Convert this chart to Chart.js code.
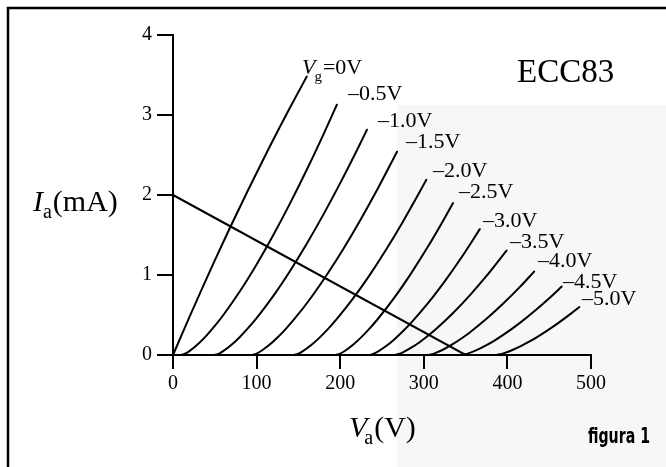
<!DOCTYPE html>
<html>
<head>
<meta charset="utf-8">
<script src="https://cdn.jsdelivr.net/npm/chart.js@4.4.1/dist/chart.umd.min.js"></script>
<style>
html,body{margin:0;padding:0;background:#fff;overflow:hidden}
#wrap{position:relative;width:666px;height:467px}
canvas{display:block}
</style>
</head>
<body>
<div id="wrap"><canvas id="c" width="666" height="467"></canvas></div>
<script>
// ---- axis ticks ----
const xTicks = [0, 100, 200, 300, 400, 500];   // Va (V)
const yTicks = [0, 1, 2, 3, 4];                // Ia (mA)

// ---- grid-voltage labels ----
const gridLabels = ['0V', '–0.5V', '–1.0V', '–1.5V', '–2.0V', '–2.5V', '–3.0V', '–3.5V', '–4.0V', '–4.5V', '–5.0V'];

// ---- anode characteristics (Va in V, Ia in mA) ----
const va_g00 = [0, 10, 20, 35, 50, 68, 90, 115, 140, 160];
const ia_g00 = [0, 0.243, 0.483, 0.836, 1.182, 1.587, 2.066, 2.590, 3.093, 3.480];

const va_g05 = [10, 15, 20, 30, 40, 50, 60, 80, 100, 120, 140, 160, 180, 196];
const ia_g05 = [0, 0.020, 0.052, 0.138, 0.243, 0.364, 0.497, 0.796, 1.132, 1.50, 1.895, 2.315, 2.758, 3.128];

const va_g10 = [50, 55, 60, 70, 80, 90, 100, 120, 140, 160, 180, 200, 220, 232];
const ia_g10 = [0, 0.018, 0.048, 0.128, 0.226, 0.338, 0.461, 0.739, 1.051, 1.392, 1.758, 2.148, 2.559, 2.816];

const va_g15 = [95, 100, 105, 115, 125, 135, 145, 165, 185, 205, 225, 245, 268];
const ia_g15 = [0, 0.018, 0.047, 0.124, 0.219, 0.327, 0.447, 0.716, 1.018, 1.348, 1.704, 2.081, 2.541];

const va_g20 = [145, 150, 155, 165, 175, 185, 195, 215, 235, 255, 275, 295, 303];
const ia_g20 = [0, 0.017, 0.046, 0.121, 0.214, 0.320, 0.438, 0.701, 0.996, 1.319, 1.667, 2.037, 2.19];

const va_g25 = [195, 200, 205, 215, 225, 235, 245, 265, 285, 305, 325, 335];
const ia_g25 = [0, 0.018, 0.047, 0.125, 0.220, 0.329, 0.450, 0.720, 1.024, 1.355, 1.713, 1.90];

const va_g30 = [235, 240, 245, 255, 265, 275, 285, 305, 325, 345, 367];
const ia_g30 = [0, 0.016, 0.043, 0.112, 0.198, 0.296, 0.404, 0.647, 0.920, 1.218, 1.573];

const va_g35 = [265, 270, 275, 285, 295, 305, 315, 335, 355, 375, 399];
const ia_g35 = [0, 0.013, 0.034, 0.091, 0.160, 0.240, 0.328, 0.525, 0.746, 0.988, 1.306];

const va_g40 = [305, 310, 315, 325, 335, 345, 355, 375, 395, 415, 432];
const ia_g40 = [0, 0.011, 0.030, 0.078, 0.138, 0.206, 0.282, 0.452, 0.643, 0.851, 1.043];

const va_g45 = [345, 350, 355, 365, 375, 385, 395, 415, 435, 455, 465];
const ia_g45 = [0, 0.010, 0.026, 0.070, 0.123, 0.184, 0.251, 0.402, 0.572, 0.757, 0.855];

const va_g50 = [386, 391, 396, 406, 416, 426, 436, 456, 476, 486];
const ia_g50 = [0, 0.009, 0.024, 0.063, 0.111, 0.166, 0.227, 0.364, 0.517, 0.599];

// ---- load line ----
const loadVa = [0, 350];
const loadIa = [2, 0];

const curveVa = [va_g00, va_g05, va_g10, va_g15, va_g20, va_g25, va_g30, va_g35, va_g40, va_g45, va_g50];
const curveIa = [ia_g00, ia_g05, ia_g10, ia_g15, ia_g20, ia_g25, ia_g30, ia_g35, ia_g40, ia_g45, ia_g50];

function pts(xs, ys) { return xs.map((x, i) => ({x: x, y: ys[i]})); }

const datasets = curveVa.map((xs, k) => ({
  label: 'Vg=' + gridLabels[k],
  data: pts(xs, curveIa[k]),
  showLine: true,
  borderColor: '#000',
  borderWidth: 2,
  pointRadius: 0,
  cubicInterpolationMode: 'monotone',
  fill: false
}));
datasets.push({
  label: 'load line',
  data: pts(loadVa, loadIa),
  showLine: true,
  borderColor: '#000',
  borderWidth: 2,
  pointRadius: 0,
  fill: false
});

// label placement (pixel anchors: left x, baseline y)
const labelAnchors = [
  [302, 74], [348, 100], [378, 127], [406, 148], [433, 177], [459, 198],
  [483, 227], [510, 248], [538, 267], [563, 288], [582, 305]
];

const SERIF = '"Liberation Serif", "Times New Roman", serif';

const decor = {
  id: 'decor',
  beforeDraw(chart) {
    const ctx = chart.ctx;
    ctx.save();
    ctx.fillStyle = '#fff';
    ctx.fillRect(0, 0, chart.width, chart.height);
    // faint grey tone of the scanned page on the right
    ctx.fillStyle = '#f7f7f7';
    ctx.fillRect(397, 105, chart.width - 397, chart.height - 105);
    ctx.restore();
  },
  afterDraw(chart) {
    const ctx = chart.ctx;
    ctx.save();
    // frame (top and left edges of the boxed figure)
    ctx.strokeStyle = '#000';
    ctx.lineWidth = 2.5;
    ctx.beginPath();
    ctx.moveTo(8, chart.height);
    ctx.lineTo(8, 8);
    ctx.lineTo(chart.width, 8);
    ctx.stroke();

    ctx.fillStyle = '#000';
    ctx.textBaseline = 'alphabetic';
    ctx.textAlign = 'left';

    // curve labels
    labelAnchors.forEach((p, k) => {
      let x = p[0], y = p[1];
      if (k === 0) {
        ctx.font = 'italic 22px ' + SERIF;
        ctx.fillText('V', x, y);
        x += ctx.measureText('V').width;
        ctx.font = '15px ' + SERIF;
        ctx.fillText('g', x - 1, y + 7);
        x += ctx.measureText('g').width;
        ctx.font = '22px ' + SERIF;
        ctx.fillText('=' + gridLabels[0], x, y);
      } else {
        ctx.font = '22px ' + SERIF;
        ctx.fillText(gridLabels[k], x, y);
      }
    });

    // tube type
    ctx.font = '33px ' + SERIF;
    ctx.fillText('ECC83', 517, 82);

    // y title: Ia(mA)
    let x = 33, y = 211;
    ctx.font = 'italic 30px ' + SERIF;
    ctx.fillText('I', x, y);
    x += ctx.measureText('I').width;
    ctx.font = '20px ' + SERIF;
    ctx.fillText('a', x, y + 7);
    x += ctx.measureText('a').width + 1;
    ctx.font = '30px ' + SERIF;
    ctx.fillText('(mA)', x, y);

    // x title: Va(V)
    x = 349; y = 437;
    ctx.font = 'italic 30px ' + SERIF;
    ctx.fillText('V', x, y);
    x += ctx.measureText('V').width - 3;
    ctx.font = '20px ' + SERIF;
    ctx.fillText('a', x, y + 7);
    x += ctx.measureText('a').width + 1;
    ctx.font = '30px ' + SERIF;
    ctx.fillText('(V)', x, y);

    // figure caption (condensed)
    ctx.font = 'bold 21px "DejaVu Sans", sans-serif';
    const cw = ctx.measureText('figura 1').width;
    ctx.save();
    ctx.translate(588, 443);
    ctx.scale(62 / cw, 1);
    ctx.fillText('figura 1', 0, 0);
    ctx.restore();
    ctx.restore();
  }
};

new Chart(document.getElementById('c'), {
  type: 'scatter',
  data: {datasets: datasets},
  options: {
    responsive: false,
    animation: false,
    devicePixelRatio: 1,
    layout: {padding: {left: 0, right: 75, top: 35, bottom: 0}},
    plugins: {legend: {display: false}, tooltip: {enabled: false}},
    elements: {line: {borderCapStyle: 'round', borderJoinStyle: 'round'}},
    scales: {
      x: {
        type: 'linear', min: xTicks[0], max: xTicks[xTicks.length - 1],
        afterBuildTicks: s => { s.ticks = xTicks.map(v => ({value: v})); },
        afterFit: s => { s.height = 112; },
        grid: {display: true, drawOnChartArea: false, drawTicks: true, tickLength: 14, color: '#000', lineWidth: 2},
        border: {display: true, color: '#000', width: 2},
        ticks: {color: '#000', font: {family: SERIF, size: 20}, padding: 3, maxRotation: 0, autoSkip: false}
      },
      y: {
        type: 'linear', min: yTicks[0], max: yTicks[yTicks.length - 1],
        afterBuildTicks: s => { s.ticks = yTicks.map(v => ({value: v})); },
        afterFit: s => { s.width = 173; },
        grid: {display: true, drawOnChartArea: false, drawTicks: true, tickLength: 16, color: '#000', lineWidth: 2},
        border: {display: true, color: '#000', width: 2},
        ticks: {color: '#000', font: {family: SERIF, size: 20}, padding: 5, autoSkip: false}
      }
    }
  },
  plugins: [decor]
});
</script>
</body>
</html>
